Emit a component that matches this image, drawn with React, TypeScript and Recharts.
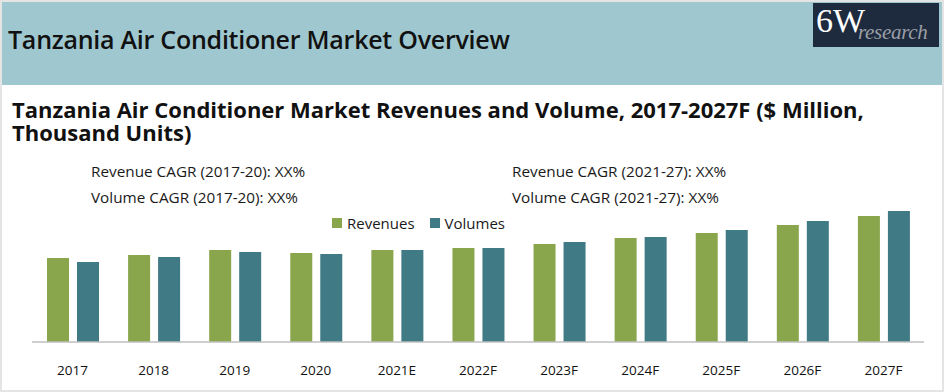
import React from 'react';
import { BarChart, Bar, XAxis, YAxis } from 'recharts';

const categories = ['2017', '2018', '2019', '2020', '2021E', '2022F', '2023F', '2024F', '2025F', '2026F', '2027F'];
const revenues = [84, 87, 92, 89, 92, 94, 98, 104, 109, 117, 126];
const volumes = [80, 85, 90, 88, 92, 94, 100, 105, 112, 121, 131];

const data = categories.map((c, i) => ({ year: c, Revenues: revenues[i], Volumes: volumes[i] }));

const GREEN = '#8aa64c';
const TEAL = '#3f7a85';
const FONT = '"Open Sans", "Noto Sans", sans-serif';

const titleLine: React.CSSProperties = { height: 23, lineHeight: '23px', overflow: 'visible', whiteSpace: 'nowrap' };

export default function App() {
  return (
    <div style={{ position: 'absolute', left: 0, top: 0, width: 944, height: 392, background: '#fff', overflow: 'hidden', fontFamily: FONT }}>
      <div style={{ position: 'absolute', inset: 0, border: '2px solid #e4e4e4', boxSizing: 'border-box' }} />
      <div style={{ position: 'absolute', left: 2, top: 2, width: 940, height: 83, background: '#9fc7cf' }} />
      <div style={{ position: 'absolute', left: 8, top: 22, fontSize: 25, fontWeight: 600, color: '#111', letterSpacing: -0.25, whiteSpace: 'nowrap' }}>
        Tanzania Air Conditioner Market Overview
      </div>
      <div style={{ position: 'absolute', left: 813, top: 3, width: 126, height: 44, background: '#1e2a3d' }}>
        <span style={{ position: 'absolute', left: 3, top: -1, fontFamily: '"Liberation Serif", "DejaVu Serif", serif', fontSize: 34, color: '#fff' }}>6W</span>
        <span style={{ position: 'absolute', left: 45, top: 17, fontFamily: '"Liberation Serif", "DejaVu Serif", serif', fontStyle: 'italic', fontSize: 21, color: '#9a9ea6', letterSpacing: -0.3 }}>research</span>
      </div>
      <div style={{ position: 'absolute', left: 12, top: 98, fontSize: 22, fontWeight: 700, color: '#111' }}>
        <div style={titleLine}>Tanzania Air Conditioner Market Revenues and Volume, 2017-2027F ($ Million,</div>
        <div style={titleLine}>Thousand Units)</div>
      </div>
      <div style={{ position: 'absolute', left: 91, top: 158, fontSize: 15.3, color: '#1a1a1a', lineHeight: '26px', whiteSpace: 'nowrap' }}>
        <div>Revenue CAGR (2017-20): XX%</div>
        <div>Volume CAGR (2017-20): XX%</div>
      </div>
      <div style={{ position: 'absolute', left: 512, top: 158, fontSize: 15.3, color: '#1a1a1a', lineHeight: '26px', whiteSpace: 'nowrap' }}>
        <div>Revenue CAGR (2021-27): XX%</div>
        <div>Volume CAGR (2021-27): XX%</div>
      </div>
      <div style={{ position: 'absolute', left: 332, top: 213, fontSize: 15, color: '#1a1a1a', display: 'flex', alignItems: 'center', whiteSpace: 'nowrap' }}>
        <span style={{ width: 10, height: 10, background: GREEN, display: 'inline-block', marginRight: 5 }} />
        <span>Revenues</span>
        <span style={{ width: 10, height: 10, background: TEAL, display: 'inline-block', marginLeft: 15, marginRight: 5 }} />
        <span>Volumes</span>
      </div>
      <div style={{ position: 'absolute', left: 0, top: 0 }}>
        <BarChart width={944} height={392} data={data} margin={{ top: 202, right: 20, bottom: 20, left: 32 }} barSize={22} barGap={8}>
          <XAxis
            dataKey="year"
            axisLine={{ stroke: '#bfbfbf', strokeWidth: 1.5 }}
            tickLine={false}
            tickMargin={17}
            interval={0}
            height={30}
            tick={{ fill: '#111', fontSize: 13.5, fontFamily: FONT }}
          />
          <YAxis hide domain={[0, 140]} />
          <Bar dataKey="Revenues" fill={GREEN} isAnimationActive={false} />
          <Bar dataKey="Volumes" fill={TEAL} isAnimationActive={false} />
        </BarChart>
      </div>
    </div>
  );
}
